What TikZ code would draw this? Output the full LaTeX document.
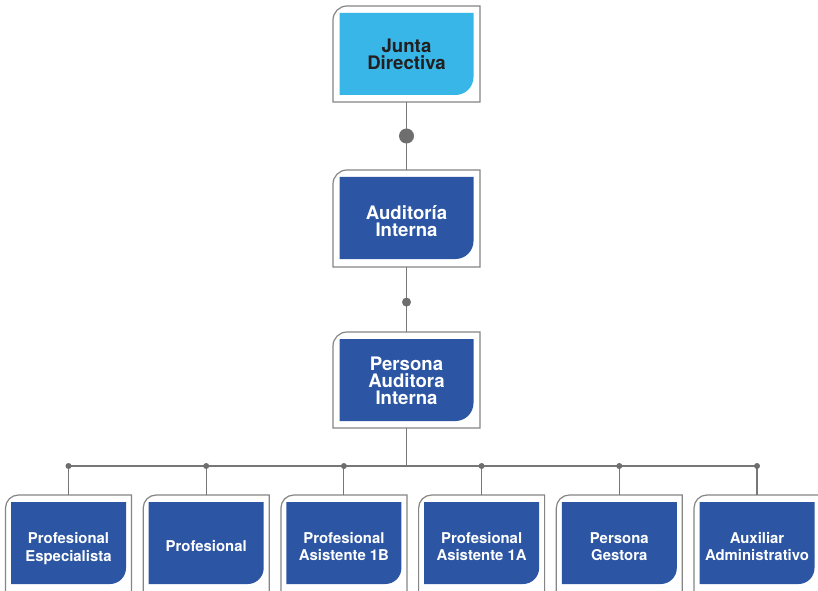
\documentclass[tikz,border=0pt]{standalone}
\usepackage{fontspec}
\setmainfont{TeX Gyre Heros}
\definecolor{dkblue}{HTML}{2C55A3}
\definecolor{ltblue}{HTML}{38B6E7}
\definecolor{linegray}{HTML}{777777}
\definecolor{framegray}{HTML}{858585}
\definecolor{dotgray}{HTML}{6E6E6E}
\definecolor{txtdark}{HTML}{231F20}
\tikzset{
  outerbox/.style={rectangle, inner sep=0pt, outer sep=0pt, draw=none},
  framestyle/.style={draw=framegray, line width=1.2pt, fill=white},
  conn/.style={draw=linegray, line width=1.1pt},
  bigtext/.style={font=\bfseries\fontsize{18.6}{17}\selectfont, align=center, inner sep=0pt},
  smalltext/.style={font=\bfseries\fontsize{14.9}{17.5}\selectfont, align=center, inner sep=0pt, text=white},
  dotbig/.style={circle, fill=dotgray, draw=none, inner sep=0pt, minimum size=15pt},
  dotmid/.style={circle, fill=dotgray, draw=none, inner sep=0pt, minimum size=9pt},
  dotsmall/.style={circle, fill=dotgray, draw=none, inner sep=0pt, minimum size=6pt}
}
% #1 name, #2 cx, #3 outer top, #4 outer bottom, #5 outer half width,
% #6 side inset, #7 inner top, #8 inner bottom, #9 fill colour
\newcommand\OrgBox[9]{%
  \node[outerbox, minimum width={2*(#5)}, minimum height={(#3)-(#4)}] (#1) at (#2,{((#3)+(#4))/2}) {};
  \draw[framestyle] ({#2-#5},#4) -- ({#2-#5},{#3-\rout}) arc[start angle=180,end angle=90,radius=\rout] -- ({#2+#5},#3) -- ({#2+#5},#4) -- cycle;
  \fill[#9] ({#2-#5+#6},#7) -- ({#2+#5-#6},#7) -- ({#2+#5-#6},{#8+\rin}) arc[start angle=0,end angle=-90,radius=\rin] -- ({#2-#5+#6},#8) -- cycle;
}
\begin{document}
\begin{tikzpicture}[x=1pt,y=1pt]
\path[use as bounding box] (0,0) rectangle (818,590);
\clip (0,0) rectangle (818,590);
\fill[white] (0,0) rectangle (818,590);
% top column
\def\rout{14}\def\rin{18}
\OrgBox{jd}{406.5}{584}{488}{73.5}{6.5}{577}{495}{ltblue}
\node[bigtext, text=txtdark] (jdT) at (406.5,535.7) {Junta\\Directiva};
\OrgBox{ai}{406.5}{420}{323}{73.5}{6.5}{413}{331}{dkblue}
\node[bigtext, text=white] (aiT) at (406.5,368.5) {Auditoría\\Interna};
\OrgBox{pai}{406.5}{258}{162}{73.5}{6.5}{251}{169}{dkblue}
\node[bigtext, text=white] (paiT) at (406.5,208.8) {Persona\\Auditora\\Interna};
% bottom row
\def\rout{13}\def\rin{16}
\foreach \i/\txt/\dy in {1/{Profesional\\Especialista}/-2, 2/{Profesional}/0, 3/{Profesional\\Asistente 1B}/0, 4/{Profesional\\Asistente 1A}/0, 5/{Persona\\Gestora}/0, 6/{Auxiliar\\Administrativo}/0}{
  \pgfmathsetmacro\cx{68.5+137.7*(\i-1)}
  \OrgBox{b\i}{\cx}{95}{-10}{63}{5.5}{88}{6}{dkblue}
  \node[smalltext] (b\i T) at (\cx,{43.5+\dy}) {\txt};
}
% connectors
\draw[conn] (jd.south) -- node[dotbig, pos=0.5] (d0) {} (ai.north);
\draw[conn] (ai.south) -- node[dotmid, pos=0.54] (d00) {} (pai.north);
\coordinate (bus) at (406.5,124);
\draw[conn] (pai.south) -- (bus);
\draw[conn] (b1.north |- bus) -- (b6.north |- bus);
\foreach \i in {1,...,6}{
  \draw[conn] (b\i.north |- bus) -- (b\i.north);
  \node[dotsmall] (d\i) at (b\i.north |- bus) {};
}
\end{tikzpicture}
\end{document}
